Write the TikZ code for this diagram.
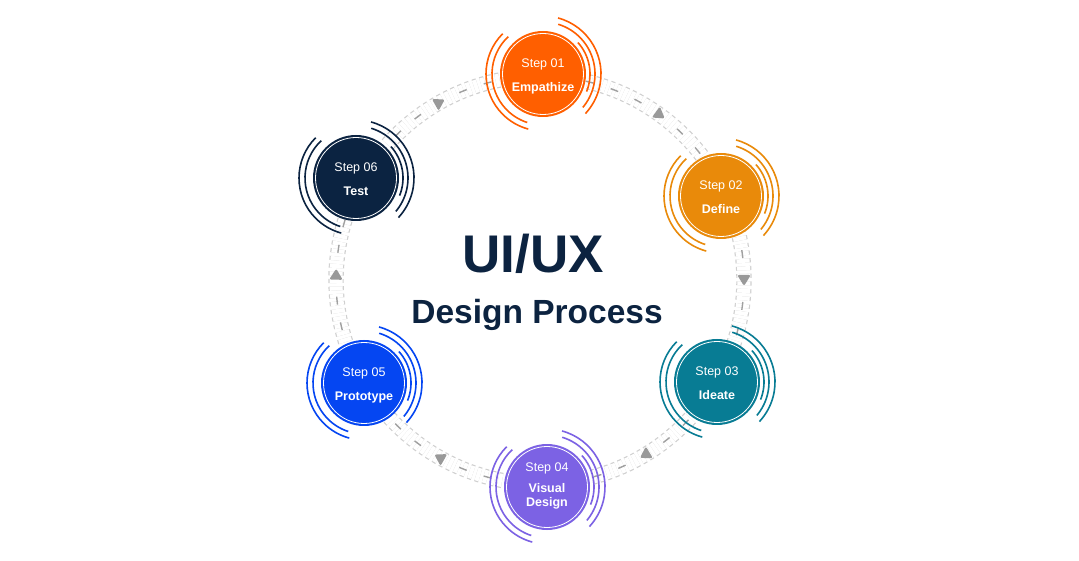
\documentclass[tikz,border=0pt]{standalone}
\usepackage{fontspec}
\setmainfont{Liberation Sans}
\usetikzlibrary{calc}
\definecolor{cone}{HTML}{FF5F00}
\definecolor{ctwo}{HTML}{E98A0A}
\definecolor{cthree}{HTML}{087C94}
\definecolor{cfour}{HTML}{7C62E4}
\definecolor{cfive}{HTML}{0546F2}
\definecolor{csix}{HTML}{0B2341}
\definecolor{ctitle}{HTML}{0C2340}
\definecolor{railc}{HTML}{D0D0D0}
\definecolor{midc}{HTML}{A0A0A0}
\definecolor{arrc}{HTML}{999999}
\newcommand\ringset[2]{%
  \draw[white, line width=0.8pt] (#1.center) circle (40.5);
  \draw[#2, line width=1.6pt] ([shift={(133:51)}]#1.center) arc[start angle=133, end angle=252, radius=51];
  \draw[#2, line width=1.6pt] ([shift={(135:57)}]#1.center) arc[start angle=135, end angle=255, radius=57];
  \draw[#2, line width=1.6pt] ([shift={(73:52)}]#1.center) arc[start angle=73, end angle=-40, radius=52];
  \draw[#2, line width=1.6pt] ([shift={(75:58)}]#1.center) arc[start angle=75, end angle=-43, radius=58];
  \draw[#2, line width=1.6pt] ([shift={(42:47)}]#1.center) arc[start angle=42, end angle=-22, radius=47];
}
% #1 from, #2 to, #3 angle of the arrow on the ring
\newcommand\linkarc[3]{%
  \draw[rail] let \p1=($(#1)-(O)$), \p2=($(#2)-(O)$), \n1={atan2(\y1,\x1)}, \n2={atan2(\y2,\x2)},
    \n3={ifthenelse(\n2>\n1,\n2-360,\n2)} in
    ($(O)+(\n1:204)$) arc[start angle=\n1, end angle=\n3, radius=204];
  \draw[midline] let \p1=($(#1)-(O)$), \p2=($(#2)-(O)$), \n1={atan2(\y1,\x1)}, \n2={atan2(\y2,\x2)},
    \n3={ifthenelse(\n2>\n1,\n2-360,\n2)} in
    ($(O)+(#3:204)$) arc[start angle=#3, end angle=\n1, radius=204]
    ($(O)+(#3:204)$) arc[start angle=#3, end angle=\n3, radius=204];
  \fill[arrc, rounded corners=2pt, shift={($(O)+(#3:204)$)}, rotate=#3-90] (6,0)--(-5,6.8)--(-5,-6.8)--cycle;
}
\newcommand\stepl[1]{{\fontsize{12.5}{15}\selectfont #1}}
\newcommand\namel[1]{{\fontsize{12.5}{15}\selectfont\bfseries #1}}
\tikzset{
  stepnode/.style={circle, fill=#1, minimum size=86pt, inner sep=0pt, text=white, align=center},
  rail/.style={draw=railc, line width=1.2pt, double=white, double distance=13pt, dash pattern=on 4pt off 3.5pt},
  midline/.style={draw=midc, line width=1.4pt, dash pattern=on 8pt off 18pt, dash phase=4pt},
  titlea/.style={text=ctitle, font=\fontsize{53}{60}\selectfont\bfseries},
  titleb/.style={text=ctitle, font=\fontsize{33.5}{38}\selectfont\bfseries}
}
\begin{document}
\begin{tikzpicture}[x=1pt,y=1pt]
\useasboundingbox (0,0) rectangle (1079,560);
\fill[white] (0,0) rectangle (1079,560);
\coordinate (O) at (540,280);
% step positions
\path
  (543,486) coordinate (p1)
  (721,364) coordinate (p2)
  (717,178) coordinate (p3)
  (547,73)  coordinate (p4)
  (364,177) coordinate (p5)
  (356,382) coordinate (p6);
% connectors (drawn first, under the circles)
\linkarc{p1}{p2}{54}
\linkarc{p2}{p3}{0}
\linkarc{p3}{p4}{-59}
\linkarc{p4}{p5}{-119.5}
\linkarc{p5}{p6}{-181.5}
\linkarc{p6}{p1}{119.5}
% circles
\node[stepnode=cone] (s1) at (p1) {\rule{0pt}{13.7pt}\stepl{Step 01}\\[12pt]\namel{Empathize}\rule[-3pt]{0pt}{3pt}};
\ringset{s1}{cone}
\node[stepnode=ctwo] (s2) at (p2) {\rule{0pt}{13.7pt}\stepl{Step 02}\\[12pt]\namel{Define}\rule[-3pt]{0pt}{3pt}};
\ringset{s2}{ctwo}
\node[stepnode=cthree] (s3) at (p3) {\rule{0pt}{13.7pt}\stepl{Step 03}\\[12pt]\namel{Ideate}\rule[-3pt]{0pt}{3pt}};
\ringset{s3}{cthree}
\node[stepnode=cfour] (s4) at (p4) {\rule{0pt}{10pt}\stepl{Step 04}\\[9pt]\namel{Visual}\\[2pt]\namel{Design}\rule[-6pt]{0pt}{6pt}};
\ringset{s4}{cfour}
\node[stepnode=cfive] (s5) at (p5) {\rule{0pt}{13.7pt}\stepl{Step 05}\\[12pt]\namel{Prototype}\rule[-3pt]{0pt}{3pt}};
\ringset{s5}{cfive}
\node[stepnode=csix] (s6) at (p6) {\rule{0pt}{13.7pt}\stepl{Step 06}\\[12pt]\namel{Test}\rule[-3pt]{0pt}{3pt}};
\ringset{s6}{csix}
% title
\node[titlea] (t1) at (533,306) {UI/UX};
\node[titleb] (t2) at (537,245) {Design Process};
\end{tikzpicture}
\end{document}
